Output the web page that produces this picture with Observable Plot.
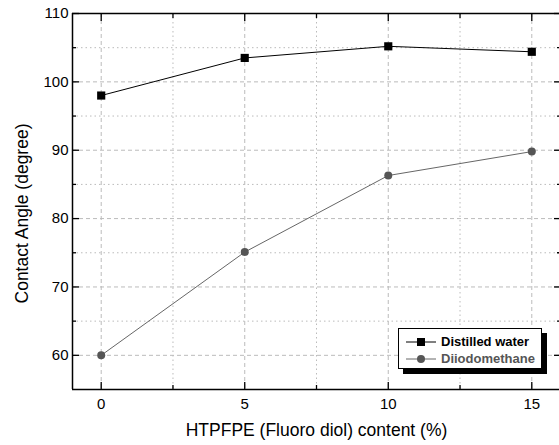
<!DOCTYPE html>
<html>
<head>
<meta charset="utf-8">
<script src="https://cdn.jsdelivr.net/npm/d3@7"></script>
<script src="https://cdn.jsdelivr.net/npm/@observablehq/plot@0.6"></script>
<style>
  html, body { margin: 0; padding: 0; background: #fff; overflow: hidden; }
  #wrap { position: relative; width: 559px; height: 445px; font-family: Arial, "Liberation Sans", sans-serif; }
  #legend { position: absolute; left: 398px; top: 328px; width: 144px; height: 41px; background: #fff;
    border: 1px solid #000; box-shadow: 5px 5px 0 #000; box-sizing: border-box; font-weight: bold; font-size: 13px; }
  .row { position: absolute; left: 0; height: 15px; display: flex; align-items: center; }
  .row svg { margin-left: 7px; }
  .row span { margin-left: 5px; }
</style>
</head>
<body>
<div id="wrap">
  <div id="chart"></div>
  <div id="legend">
    <div class="row" style="top:5px"><svg width="30" height="10"><line x1="0" y1="5" x2="30" y2="5" stroke="#000" stroke-width="1"/><rect x="11" y="1" width="8" height="8" fill="#000"/></svg><span style="color:#000">Distilled water</span></div>
    <div class="row" style="top:22px"><svg width="30" height="10"><line x1="0" y1="5" x2="30" y2="5" stroke="#666" stroke-width="1"/><circle cx="15" cy="5" r="4" fill="#555"/></svg><span style="color:#555">Diiodomethane</span></div>
  </div>
</div>
<script>
const contents = [0, 5, 10, 15];
const water = [98.0, 103.5, 105.2, 104.4];
const diiodo = [60.0, 75.1, 86.3, 89.8];
const xMajor = [0, 5, 10, 15];
const xMinor = [2.5, 7.5, 12.5];
const yMajor = [60, 70, 80, 90, 100, 110];
const yMinor = [65, 75, 85, 95, 105];

const waterData = contents.map((c, i) => ({x: c, y: water[i]}));
const diiodoData = contents.map((c, i) => ({x: c, y: diiodo[i]}));

const font = "Arial, 'Liberation Sans', sans-serif";
const tk = {stroke: "#000", strokeWidth: 1.3, fill: "none", label: null};

const chart = Plot.plot({
  width: 559,
  height: 445,
  marginLeft: 72,
  marginRight: -1,
  marginTop: 13,
  marginBottom: 56,
  style: {fontFamily: font, fontSize: "15px", color: "#000", background: "#fff"},
  x: {domain: [-1, 16]},
  y: {domain: [55, 110]},
  marks: [
    Plot.ruleX(xMajor, {stroke: "#bbb", strokeDasharray: "4,3", strokeWidth: 1}),
    Plot.ruleX(xMinor, {stroke: "#bbb", strokeDasharray: "1.5,3", strokeWidth: 1}),
    Plot.ruleY(yMajor, {stroke: "#bbb", strokeDasharray: "4,3", strokeWidth: 1}),
    Plot.ruleY(yMinor, {stroke: "#bbb", strokeDasharray: "1.5,3", strokeWidth: 1}),
    // axes: labels
    Plot.axisX(xMajor, {anchor: "bottom", tickSize: 0, tickPadding: 9, fontSize: 15, label: null}),
    Plot.axisY(yMajor, {anchor: "left", tickSize: 0, tickPadding: 4, fontSize: 15, label: null}),
    // inward ticks
    Plot.axisX(xMajor, {anchor: "bottom", tickSize: -7, ...tk}),
    Plot.axisX(xMinor, {anchor: "bottom", tickSize: -4, ...tk}),
    Plot.axisX(xMajor, {anchor: "top", tickSize: -7, ...tk}),
    Plot.axisX(xMinor, {anchor: "top", tickSize: -4, ...tk}),
    Plot.axisY(yMajor, {anchor: "left", tickSize: -7, ...tk}),
    Plot.axisY(yMinor, {anchor: "left", tickSize: -4, ...tk}),
    Plot.axisY(yMajor, {anchor: "right", tickSize: -7, ...tk}),
    Plot.axisY(yMinor, {anchor: "right", tickSize: -4, ...tk}),
    Plot.lineY(waterData, {x: "x", y: "y", stroke: "#000", strokeWidth: 1}),
    Plot.lineY(diiodoData, {x: "x", y: "y", stroke: "#666", strokeWidth: 1}),
    Plot.dot(waterData, {x: "x", y: "y", symbol: "square", r: 4.6, fill: "#000"}),
    Plot.dot(diiodoData, {x: "x", y: "y", symbol: "circle", r: 4, fill: "#555"}),
    Plot.ruleX([-1], {stroke: "#000", strokeWidth: 1.5}),
    Plot.ruleY([55, 110], {stroke: "#000", strokeWidth: 1.5}),
    Plot.text(["HTPFPE (Fluoro diol) content (%)"], {frameAnchor: "bottom", dy: 46, fontSize: 17.5, text: d => d}),
    Plot.text(["Contact Angle (degree)"], {frameAnchor: "left", dx: -50, dy: 12, rotate: -90, textAnchor: "middle", fontSize: 17.5, text: d => d})
  ]
});
document.getElementById("chart").appendChild(chart);
</script>
</body>
</html>
